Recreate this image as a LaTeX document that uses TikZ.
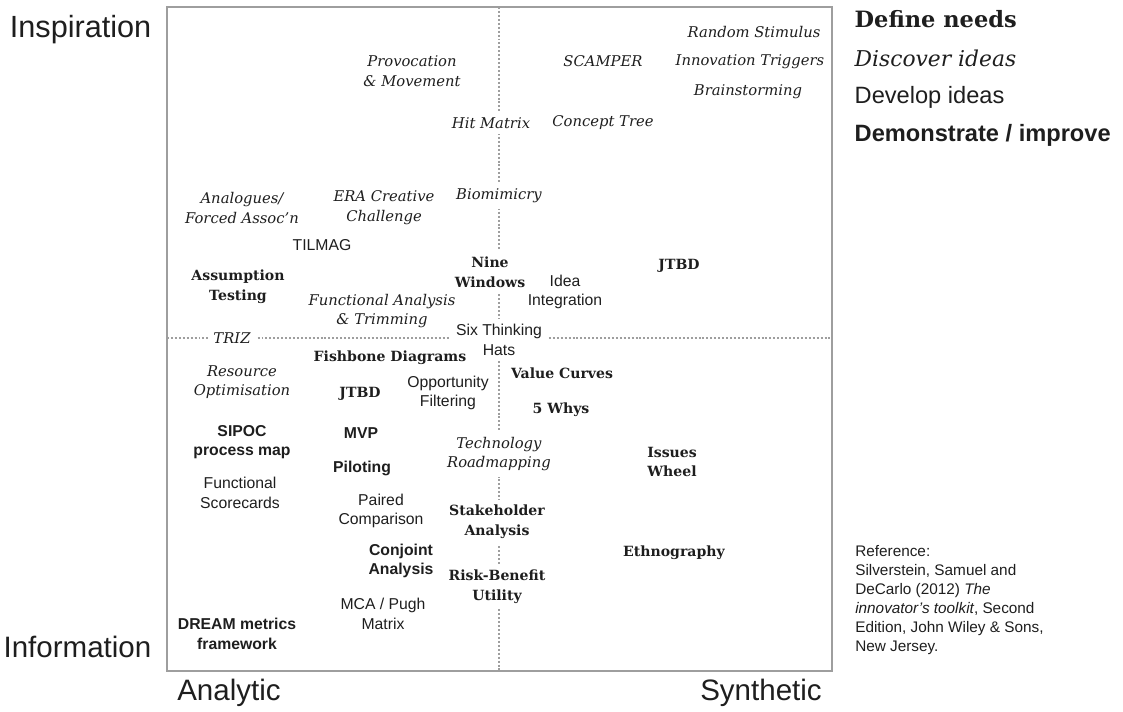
\documentclass[tikz,border=0pt]{standalone}
\usepackage{fontspec}
\setmainfont{DejaVu Serif}
\setsansfont{Liberation Sans}
\usetikzlibrary{positioning}
\definecolor{framegray}{HTML}{9E9E9E}
\definecolor{ink}{HTML}{1E1E1E}

\begin{document}
\begin{tikzpicture}[
  x=0.025cm, y=-0.025cm,
  every node/.style={text=ink, align=center, inner sep=1pt},
  discover/.style={font=\fontsize{10.5}{14}\selectfont\itshape},
  define/.style={font=\fontsize{10}{14}\selectfont\bfseries},
  develop/.style={font=\sffamily\fontsize{11.2}{14}\selectfont},
  demo/.style={font=\sffamily\bfseries\fontsize{11.2}{14}\selectfont},
  axislabel/.style={font=\sffamily\fontsize{21}{25}\selectfont},
  mask/.style={fill=white, inner sep=4pt},
  divider/.style={draw=framegray, line width=1.9pt, dash pattern=on 1.4pt off 1.4pt},
  frame/.style={draw=framegray, line width=2.1pt}
]
\useasboundingbox (0,0) rectangle (1123,711);

% -- Outer box and the two dotted quadrant dividers.
\coordinate (nw) at (167,7);
\coordinate (se) at (832,671);
\coordinate (mid) at (499,338);
\draw[divider] (nw -| mid) -- (se -| mid);
\draw[divider] (nw |- mid) -- (se |- mid);
\draw[frame] (nw) rectangle (se);

% -- Axis labels.
\node[axislabel, font=\sffamily\fontsize{21.8}{25}\selectfont, anchor=east] (inspire) at (153,30) {Inspiration};
\node[axislabel, anchor=east] (inform)  at (153,647) {Information};
\node[axislabel] (analytic)  at (229,693) {Analytic};
\node[axislabel] (synthetic) at (761,693) {Synthetic};

% -- Legend, top right.
\node[define, font=\fontsize{16}{18}\selectfont\bfseries, anchor=west] (legdefine) at (853,19) {Define needs};
\node[discover, font=\fontsize{15.5}{18}\selectfont\itshape, anchor=west] (legdiscover) at (853,58) {Discover ideas};
\node[develop, font=\sffamily\fontsize{16.8}{20}\selectfont, anchor=west] (legdevelop) at (853,97) {Develop ideas};
\node[demo, font=\sffamily\bfseries\fontsize{16.8}{20}\selectfont, anchor=west] (legdemo) at (853,135) {Demonstrate / improve};

% -- Top half: inspiration.
\node[discover] (provoc)     at (412,71)  {Provocation\\\& Movement};
\node[discover] (scamper)    at (603,61)  {SCAMPER};
\node[discover] (random)     at (754,32)  {Random Stimulus};
\node[discover] (triggers)   at (750,62)  {Innovation Triggers};
\node[discover] (brainstorm) at (748,92)  {Brainstorming};
\node[discover, mask] (hitmatrix) at (491,123) {Hit Matrix};
\node[discover] (concept)    at (603,123) {Concept Tree};
\node[discover, mask] (biomim) at (499,196) {Biomimicry};
\node[discover] (analogues)  at (242,208) {Analogues/\\Forced Assoc'n};
\node[discover] (era)        at (384,208) {ERA Creative\\Challenge};
\node[develop] (tilmag)      at (322,245) {TILMAG};
\node[define] (assumption)   at (238,287) {Assumption\\Testing};
\node[define, mask] (ninewin) at (490,272) {Nine\\Windows};
\node[discover] (funcan)     at (382,311) {Functional Analysis\\\& Trimming};
\node[develop] (ideaint)     at (565,292) {Idea\\Integration};
\node[define] (jtbdtop)      at (679,266) {JTBD};
\node[discover, mask] (triz) at (232,338) {TRIZ};
\node[develop, mask] (sixhats) at (499,340) {Six Thinking\\Hats};

% -- Bottom half: information.
\node[define] (fishbone)     at (390,358) {Fishbone Diagrams};
\node[discover] (resource)   at (242,382) {Resource\\Optimisation};
\node[define] (jtbdlow)      at (360,394) {JTBD};
\node[develop] (oppfilter)   at (448,393) {Opportunity\\Filtering};
\node[define] (valuecurves)  at (562,373) {Value Curves};
\node[define] (fivewhys)     at (561,410) {5 Whys};
\node[demo] (sipoc)          at (242,442) {SIPOC\\process map};
\node[demo] (mvp)            at (361,433) {MVP};
\node[demo] (piloting)       at (362,468) {Piloting};
\node[discover, mask] (techroad) at (499,454) {Technology\\Roadmapping};
\node[define] (issues)       at (672,462) {Issues\\Wheel};
\node[develop] (funcscore)   at (240,493) {Functional\\Scorecards};
\node[develop] (paired)      at (381,511) {Paired\\Comparison};
\node[define, mask] (stakeholder) at (497,522) {Stakeholder\\Analysis};
\node[define] (ethno)        at (674,553) {Ethnography};
\node[demo] (conjoint)       at (401,561) {Conjoint\\Analysis};
\node[define, mask] (riskben) at (497,587) {Risk-Benefit\\Utility};
\node[develop] (mcapugh)     at (383,614) {MCA / Pugh\\Matrix};
\node[demo] (dream)          at (237,634) {DREAM metrics\\framework};

% -- Source note.
\node[develop, font=\sffamily\fontsize{10.9}{13.5}\selectfont, anchor=north west, align=left, inner sep=0pt] (source) at (855,545)
  {Reference:\\Silverstein, Samuel and\\DeCarlo (2012) \textit{The}\\\textit{innovator's toolkit}, Second\\Edition, John Wiley \& Sons,\\New Jersey.};
\end{tikzpicture}
\end{document}
